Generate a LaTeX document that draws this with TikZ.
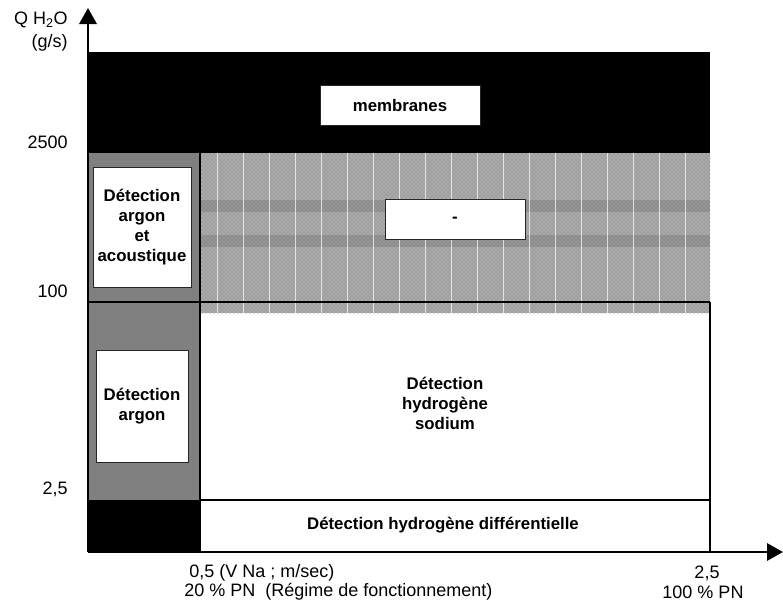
\documentclass[tikz,border=0pt]{standalone}
\usepackage{fontspec}
\setmainfont{Liberation Sans}
\usetikzlibrary{arrows.meta,patterns}
\definecolor{zonegray}{HTML}{808080}
\definecolor{hatchgray}{HTML}{ABABAB}
\definecolor{banddark}{HTML}{7E7E7E}
\newcommand{\zone}[5]{%
  \fill[#5] (#1,#2) rectangle (#3,#4);
}
\tikzset{
  zonebox/.style={draw=black!85, fill=white, line width=0.6pt, inner sep=0pt,
    align=center, font=\fontsize{12.6}{15}\selectfont\bfseries},
  zonetext/.style={inner sep=0pt, align=center, font=\fontsize{12.6}{15}\selectfont\bfseries},
  ylabel/.style={inner sep=0pt, anchor=east, font=\fontsize{13.5}{15}\selectfont},
  xlabel/.style={inner sep=0pt, font=\fontsize{13.5}{15}\selectfont},
  border/.style={line width=1.6pt},
  axis/.style={line width=1.6pt, -{Triangle[width=13pt,length=12pt]}}
}

\begin{document}
\begin{tikzpicture}[x=0.75pt,y=-0.75pt]
  \useasboundingbox (0,0) rectangle (783,608);
  % membranes zone
  \zone{88}{52}{710}{153}{black}
  % argon column
  \zone{88}{153}{200}{500}{zonegray}
  \zone{88}{500}{200}{552}{black}
  % hatched zone
  \zone{200}{153}{710}{313}{hatchgray}
  \fill[pattern=crosshatch dots, pattern color=black!55] (200,153) rectangle (710,313);
  \foreach \y in {200,235} { \fill[banddark, opacity=0.5] (200,\y) rectangle (710,\y+12); }
  \foreach \x in {217,243,...,700} { \draw[white, opacity=0.7, line width=0.4pt] (\x,153) -- (\x,313); }
  % zone borders
  \draw[border] (200,153) -- (200,552);
  \draw[border] (88,302) -- (710,302);
  \draw[border] (710,302) -- (710,552);
  \draw[border] (200,500) -- (710,500);
  % axes
  \coordinate (origin) at (88,552);
  \coordinate (ytip) at (88,8);
  \coordinate (xtip) at (783,552);
  \draw[axis] (origin) -- (ytip);
  \draw[axis] (origin) -- (xtip);
  % zone labels
  \node[zonebox, minimum width=160*0.75pt, minimum height=40*0.75pt] (membranes) at (400,105) {membranes};
  \node[zonebox, minimum width=140*0.75pt, minimum height=40*0.75pt] (blank) at (455,219.5) {-};
  \node[zonebox, minimum width=98*0.75pt, minimum height=120*0.75pt] (argonac) at (142,227) {Détection\\argon\\et\\acoustique};
  \node[zonebox, minimum width=92*0.75pt, minimum height=112*0.75pt] (argon) at (142,406) {Détection\\argon};
  \node[zonetext] (sodium) at (445,403) {Détection\\hydrogène\\sodium};
  \node[zonetext] (diff) at (443,525) {Détection hydrogène différentielle};
  % axis labels
  \node[ylabel] (qeau) at (68,20) {Q H\textsubscript{2}O};
  \node[ylabel] (unit) at (68,43) {(g/s)};
  \node[ylabel] (q2500) at (68,142) {2500};
  \node[ylabel] (q100) at (68,291) {100};
  \node[ylabel] (q25) at (68,489) {2,5};
  \node[xlabel, anchor=west] (vna) at (189,573) {0,5 (V Na ; m/sec)};
  \node[xlabel, anchor=west] (pn20) at (184,592) {20 \% PN\ \ (Régime de fonctionnement)};
  \node[xlabel] (v25) at (707,573) {2,5};
  \node[xlabel] (pn100) at (703,592) {100 \% PN};
\end{tikzpicture}
\end{document}
